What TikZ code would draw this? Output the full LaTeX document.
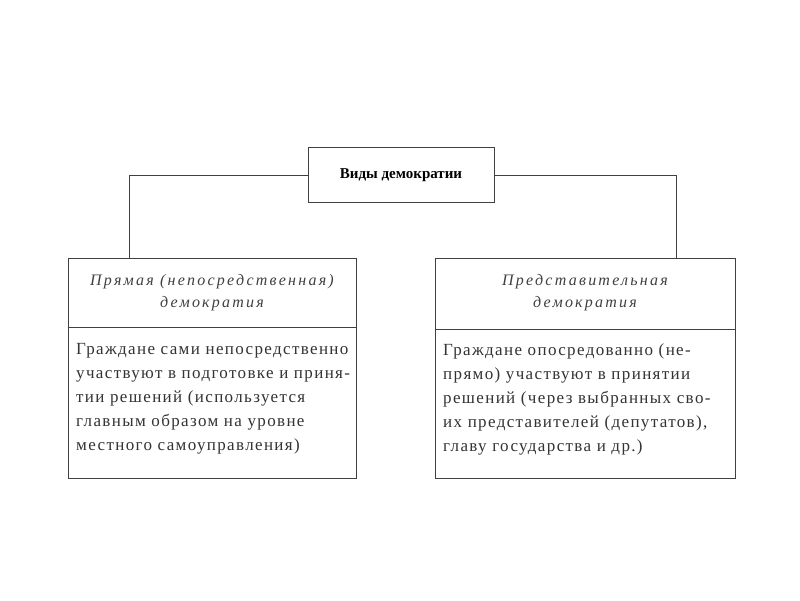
\documentclass[tikz,border=0pt]{standalone}
\usepackage{fontspec}
\setmainfont{Liberation Serif}
\newfontfamily\spacedfont[LetterSpace=8]{Liberation Serif}
\newfontfamily\wideitfont[LetterSpace=14]{Liberation Serif}
\usetikzlibrary{positioning}
\tikzset{
  kbox/.style={draw=black!75,line width=0.9pt,minimum width=288pt,minimum height=220pt},
  head/.style={align=center,font=\wideitfont\fontsize{16}{22}\selectfont\itshape,text=black!75},
  body/.style={align=left,font=\spacedfont\fontsize{17}{24}\selectfont,text=black!80,anchor=north west,inner sep=0pt}
}
\begin{document}
\begin{tikzpicture}[x=1pt,y=-1pt]
	\useasboundingbox[fill=white] (0,0) rectangle (800,600);
	\node[draw=black!75,line width=0.9pt,minimum width=186pt,minimum height=55pt,font=\fontsize{15}{18}\selectfont\bfseries] (top) at (401,175) {Виды демократии};

	\node[kbox] (left) at (212,368) {};
	\node[kbox,minimum width=300pt] (right) at (585,368) {};

	\node[head] (lhead) at (212,293) {Прямая (непосредственная)\\демократия};
	\node[head] (rhead) at (585,293) {Представительная\\демократия};

	\node[body] (ltext) at (76,343) {Граждане сами непосредственно\\участвуют в подготовке и приня-\\тии решений (используется\\главным образом на уровне\\местного самоуправления)};
	\node[body] (rtext) at (443,343) {Граждане опосредованно (не-\\прямо) участвуют в принятии\\решений (через выбранных сво-\\их представителей (депутатов),\\главу государства и др.)};

	\draw[black!75,line width=0.9pt] ([yshift=-70pt]left.north west) -- ([yshift=-70pt]left.north east);
	\draw[black!75,line width=0.9pt] ([yshift=-72pt]right.north west) -- ([yshift=-72pt]right.north east);

	\draw[black!75,line width=0.9pt] (top.west) -| ([xshift=62pt]left.north west);
	\draw[black!75,line width=0.9pt] (top.east) -| ([xshift=-59pt]right.north east);
\end{tikzpicture}
\end{document}
